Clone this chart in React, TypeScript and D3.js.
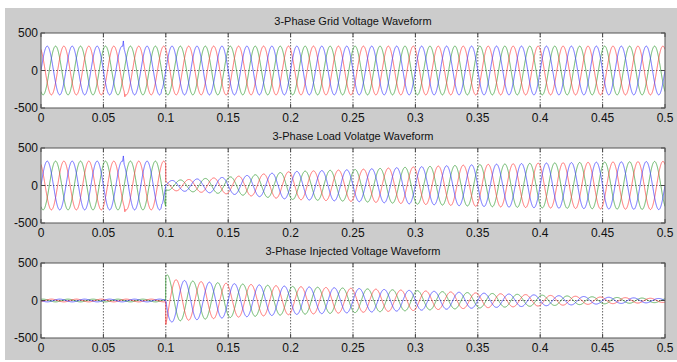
import React from "react";
import * as d3 from "d3";

// ---- chart data ----
const panelTitles = [
  "3-Phase Grid Voltage Waveform",
  "3-Phase Load Volatge Waveform",
  "3-Phase Injected Voltage Waveform",
];
const xTicks = [0, 0.05, 0.1, 0.15, 0.2, 0.25, 0.3, 0.35, 0.4, 0.45, 0.5];
const yTicks = [-500, 0, 500];

const FREQ = 50; // Hz
const phaseColors = ["#ff3a3a", "#2f9a2f", "#3535ff"]; // a, b, c
const phaseAngles = [120, -120, 0]; // degrees

// amplitude envelopes per panel (time s -> peak volts)
const gridEnvT = [0, 0.5];
const gridEnvA = [325, 325];
const loadEnvT = [0, 0.0999, 0.1, 0.11, 0.15, 0.2, 0.25, 0.3, 0.35, 0.4, 0.45, 0.5];
const loadEnvA = [325, 325, 62, 72, 112, 185, 212, 248, 278, 298, 312, 322];
const injEnvT = [0, 0.0999, 0.1, 0.104, 0.11, 0.15, 0.2, 0.25, 0.3, 0.35, 0.4, 0.45, 0.5];
const injEnvA = [18, 18, 370, 290, 272, 228, 188, 162, 132, 100, 72, 45, 25];
const panelSign = [1, 1, -1];

// small disturbances (panel, phase, time, delta volts)
const glitchPanel = [0, 0, 0, 1, 1, 1];
const glitchPhase = [2, 0, 2, 2, 0, 2];
const glitchTime = [0.066, 0.0672, 0.0968, 0.066, 0.0672, 0.0968];
const glitchDelta = [85, -45, 25, 85, -45, 25];

const WIDTH = 677;
const HEIGHT = 362;
const plotLeft = 41;
const plotRight = 665;
const panelTops = [33, 148, 263];
const panelH = 75;
const DT = 0.0001;

const envelopes = [
  d3.scaleLinear().domain(gridEnvT).range(gridEnvA).clamp(true),
  d3.scaleLinear().domain(loadEnvT).range(loadEnvA).clamp(true),
  d3.scaleLinear().domain(injEnvT).range(injEnvA).clamp(true),
];

const times = d3.range(0, 0.5 + DT / 2, DT);

function seriesFor(panel: number, phase: number): [number, number][] {
  const env = envelopes[panel];
  const phi = (phaseAngles[phase] * Math.PI) / 180;
  return times.map((t) => {
    let v = panelSign[panel] * env(t) * Math.sin(2 * Math.PI * FREQ * t + phi);
    glitchTime.forEach((gt, i) => {
      if (glitchPanel[i] === panel && glitchPhase[i] === phase) {
        const w = 0.0006;
        const d = Math.abs(t - gt);
        if (d < w) v += glitchDelta[i] * (1 - d / w);
      }
    });
    return [t, v];
  });
}

const x = d3.scaleLinear().domain([0, 0.5]).range([plotLeft, plotRight]);

const Panel: React.FC<{ index: number }> = ({ index }) => {
  const top = panelTops[index];
  const y = d3.scaleLinear().domain([-500, 500]).range([top + panelH, top]);
  const line = d3
    .line<[number, number]>()
    .x((d) => x(d[0]))
    .y((d) => y(d[1]));
  const clipId = `clip${index}`;
  const drawOrder = [1, 0, 2];
  return (
    <g>
      <clipPath id={clipId}>
        <rect x={plotLeft} y={top} width={plotRight - plotLeft} height={panelH} />
      </clipPath>
      <text
        x={(plotLeft + plotRight) / 2}
        y={top - 8}
        textAnchor="middle"
        fontSize={11}
        fill="#111"
      >
        {panelTitles[index]}
      </text>
      <rect x={plotLeft} y={top} width={plotRight - plotLeft} height={panelH} fill="#fff" />
      {/* grid */}
      {xTicks.slice(1, -1).map((t) => (
        <line
          key={t}
          x1={x(t)}
          x2={x(t)}
          y1={top}
          y2={top + panelH}
          stroke="#666"
          strokeDasharray="1.5,1.5"
        />
      ))}
      <line
        x1={plotLeft}
        x2={plotRight}
        y1={y(0)}
        y2={y(0)}
        stroke="#666"
        strokeDasharray="1.5,1.5"
      />
      <g clipPath={`url(#${clipId})`}>
        {drawOrder.map((k) => (
          <path
            key={k}
            d={line(seriesFor(index, k)) || ""}
            fill="none"
            stroke={phaseColors[k]}
            strokeWidth={1}
            strokeOpacity={0.72}
          />
        ))}
      </g>
      {/* ticks */}
      {xTicks.map((t) => (
        <g key={t}>
          <line x1={x(t)} x2={x(t)} y1={top} y2={top + 4} stroke="#444" />
          <line x1={x(t)} x2={x(t)} y1={top + panelH} y2={top + panelH - 4} stroke="#444" />
          <text
            x={x(t)}
            y={top + panelH + 13.5}
            textAnchor="middle"
            fontSize={12}
            fill="#111"
          >
            {String(t)}
          </text>
        </g>
      ))}
      {yTicks.map((v) => (
        <g key={v}>
          <line x1={plotLeft} x2={plotLeft + 4} y1={y(v)} y2={y(v)} stroke="#444" />
          <line x1={plotRight} x2={plotRight - 4} y1={y(v)} y2={y(v)} stroke="#444" />
          <text
            x={plotLeft - 3}
            y={y(v) + 4}
            textAnchor="end"
            fontSize={12}
            fill="#111"
          >
            {String(v)}
          </text>
        </g>
      ))}
      <rect
        x={plotLeft}
        y={top}
        width={plotRight - plotLeft}
        height={panelH}
        fill="none"
        stroke="#555"
      />
    </g>
  );
};

export default function App() {
  return (
    <svg
      width={WIDTH}
      height={HEIGHT}
      viewBox={`0 0 ${WIDTH} ${HEIGHT}`}
      style={{ position: "absolute", left: 0, top: 0, background: "#fff" }}
      fontFamily="'Liberation Sans', Arial, sans-serif"
    >
      <rect x={5} y={8} width={WIDTH - 5} height={HEIGHT - 10} fill="#cccccc" />
      {panelTitles.map((_, i) => (
        <Panel key={i} index={i} />
      ))}
    </svg>
  );
}
